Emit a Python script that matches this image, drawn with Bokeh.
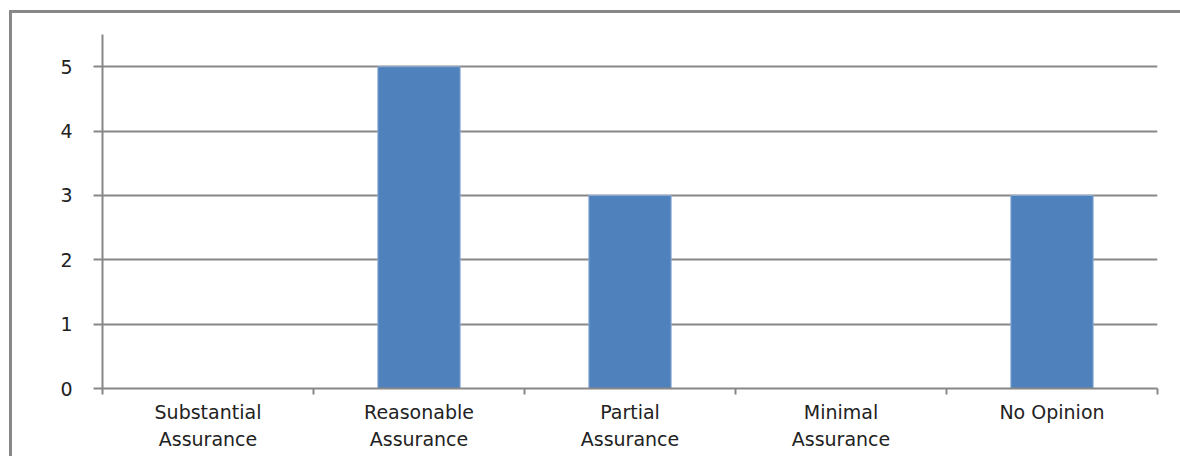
from bokeh.plotting import figure
from bokeh.models import Range1d, FixedTicker, ColumnDataSource
from bokeh.embed import file_html
from bokeh.resources import INLINE

categories = ["Substantial\nAssurance", "Reasonable\nAssurance", "Partial\nAssurance",
              "Minimal\nAssurance", "No Opinion"]
values = [0, 5, 3, 0, 3]
y_ticks = [0, 1, 2, 3, 4, 5]

xpos = [i + 0.5 for i in range(len(categories))]
bounds = [float(i) for i in range(len(categories) + 1)]
src = ColumnDataSource(dict(x=xpos, top=values))

GRAY = "#878787"
TXT = "#222222"
FONT = "DejaVu Sans"

p = figure(width=1171, height=446, output_backend="svg", toolbar_location=None,
           x_range=Range1d(0, len(categories)), y_range=Range1d(0, 5.5),
           min_border_left=90, min_border_right=26, min_border_top=21,
           min_border_bottom=71)
p.margin = (10, 0, 0, 9)
p.styles = {"border-left": "3px solid #888888", "border-top": "3px solid #888888"}
p.outline_line_color = None
p.background_fill_color = "white"
p.border_fill_color = "white"

p.vbar(x="x", top="top", bottom=0, width=0.39, source=src,
       fill_color="#4F81BD", line_color="#8FADD6", line_width=1)

# x axis
xa = p.xaxis[0]
xa.ticker = FixedTicker(ticks=xpos, minor_ticks=bounds)
xa.major_label_overrides = {x: c for x, c in zip(xpos, categories)}
xa.major_tick_line_color = None
xa.major_tick_out = 0
xa.major_tick_in = 0
xa.minor_tick_out = 6
xa.minor_tick_in = 0
xa.minor_tick_line_color = GRAY
xa.minor_tick_line_width = 2
xa.axis_line_color = GRAY
xa.axis_line_width = 2
xa.major_label_text_font = FONT
xa.major_label_text_font_size = "19px"
xa.major_label_text_color = TXT
xa.major_label_text_line_height = 1.24
xa.major_label_standoff = 6

# y axis
ya = p.yaxis[0]
ya.ticker = FixedTicker(ticks=y_ticks, minor_ticks=[])
ya.major_tick_out = 9
ya.major_tick_in = 0
ya.major_tick_line_color = GRAY
ya.major_tick_line_width = 2
ya.axis_line_color = GRAY
ya.axis_line_width = 2
ya.major_label_text_font = FONT
ya.major_label_text_font_size = "19px"
ya.major_label_text_color = TXT
ya.major_label_standoff = 21

p.xgrid.visible = False
p.ygrid.ticker = FixedTicker(ticks=y_ticks, minor_ticks=[])
p.ygrid.grid_line_color = GRAY
p.ygrid.grid_line_width = 2

open("out.html", "w").write(file_html(p, INLINE))
